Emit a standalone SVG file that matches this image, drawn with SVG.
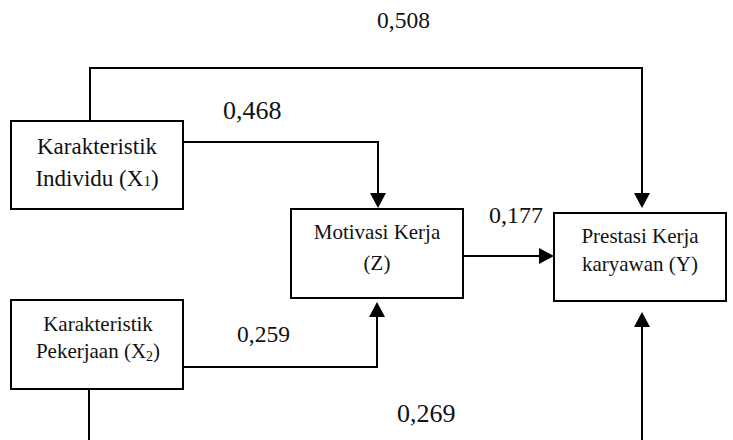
<svg xmlns="http://www.w3.org/2000/svg" width="733" height="440" viewBox="0 0 733 440">
<style>
.box{fill:#fff;stroke:#000;stroke-width:2}
.t{fill:#111;text-anchor:middle}
.lbl{fill:#111}
.c{fill:none;stroke:#000;stroke-width:2}
</style>
<defs>
<marker id="ah" markerUnits="userSpaceOnUse" markerWidth="15" markerHeight="16" refX="12" refY="8" orient="auto">
<path d="M0,0 L15,8 L0,16 z" fill="#000"/>
</marker>
</defs>
<rect width="733" height="440" fill="#fff"/>
<g id="connectors">
<path class="c" d="M90,121 V68 H642 V205" marker-end="url(#ah)"/>
<path class="c" d="M183,142 H378 V205" marker-end="url(#ah)"/>
<path class="c" d="M183,367 H377 V305" marker-end="url(#ah)"/>
<path class="c" d="M463,256 H551" marker-end="url(#ah)"/>
<path class="c" d="M89,389 V446 H642 V315" marker-end="url(#ah)"/>
</g>
<g font-family="'Liberation Serif', 'Times New Roman', 'DejaVu Serif', serif">
<g id="labels">
<text class="lbl" x="377" y="28" font-size="23.5">0,508</text>
<text class="lbl" x="223" y="119" font-size="26">0,468</text>
<text class="lbl" x="489" y="223" font-size="24">0,177</text>
<text class="lbl" x="237" y="342" font-size="23.5">0,259</text>
<text class="lbl" x="397" y="422" font-size="26">0,269</text>
</g>
<g id="x1">
<rect class="box" x="11" y="121" width="172" height="88"/>
<text class="t" x="97" y="154" font-size="23">Karakteristik</text>
<text class="t" x="97" y="186" font-size="23">Individu (X<tspan font-size="15">1</tspan>)</text>
</g>
<g id="x2">
<rect class="box" x="11" y="300" width="172" height="89"/>
<text class="t" x="98" y="331" font-size="21">Karakteristik</text>
<text class="t" x="98" y="358" font-size="21">Pekerjaan (X<tspan font-size="14" dy="3">2</tspan><tspan dy="-3">)</tspan></text>
</g>
<g id="z">
<rect class="box" x="291" y="209" width="172" height="89"/>
<text class="t" x="377" y="239" font-size="21">Motivasi Kerja</text>
<text class="t" x="377" y="270" font-size="21">(Z)</text>
</g>
<g id="y">
<rect class="box" x="554" y="213" width="172" height="88"/>
<text class="t" x="640" y="243" font-size="21">Prestasi Kerja</text>
<text class="t" x="640" y="271" font-size="21">karyawan (Y)</text>
</g>
</g>
</svg>
